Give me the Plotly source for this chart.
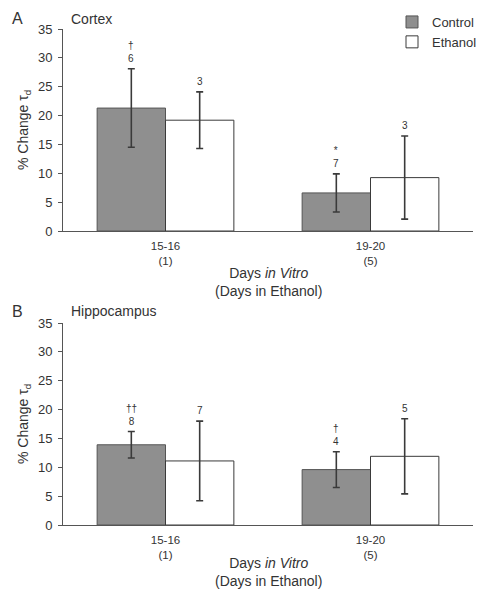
import plotly.graph_objects as go

categories = ["15-16<br>(1)", "19-20<br>(5)"]
groups = ["Control", "Ethanol"]

cortex_control = [21.3, 6.6]
cortex_control_err = [6.8, 3.3]
cortex_ethanol = [19.2, 9.25]
cortex_ethanol_err = [4.9, 7.2]
cortex_control_lbl = ["†<br>6", "*<br>7"]
cortex_ethanol_lbl = ["3", "3"]

hippo_control = [13.9, 9.6]
hippo_control_err = [2.3, 3.1]
hippo_ethanol = [11.1, 11.9]
hippo_ethanol_err = [6.9, 6.5]
hippo_control_lbl = ["††<br>8", "†<br>4"]
hippo_ethanol_lbl = ["7", "5"]

W, H = 491, 599
FONT = "Liberation Sans, Arial, sans-serif"
TXT = "#333333"
CTRL_FILL = "#8f8f8f"
EDGE = "#3a3a3a"
BARGAP = 0.333

fig = go.Figure()

def add_panel(ctrl, ctrl_err, eth, eth_err, xa, ya, showleg):
    fig.add_trace(go.Bar(
        x=categories, y=ctrl, name=groups[0], xaxis=xa, yaxis=ya,
        marker=dict(color=CTRL_FILL, line=dict(color="#555555", width=1)),
        error_y=dict(type="data", array=ctrl_err, color=EDGE, thickness=1.6, width=3.5),
        showlegend=showleg, legendgroup="c"))
    fig.add_trace(go.Bar(
        x=categories, y=eth, name=groups[1], xaxis=xa, yaxis=ya,
        marker=dict(color="white", line=dict(color=EDGE, width=1)),
        error_y=dict(type="data", array=eth_err, color=EDGE, thickness=1.6, width=3.5),
        showlegend=showleg, legendgroup="e"))

add_panel(cortex_control, cortex_control_err, cortex_ethanol, cortex_ethanol_err, "x", "y", True)
add_panel(hippo_control, hippo_control_err, hippo_ethanol, hippo_ethanol_err, "x2", "y2", False)

xdom = [63 / W, 473 / W]
top_dom = [1 - 231 / H, 1 - 29 / H]
bot_dom = [1 - 525 / H, 1 - 323 / H]

axis_common_y = dict(range=[0, 35], dtick=5, showline=True, linecolor="#555555", linewidth=1,
                     ticks="outside", ticklen=4, tickcolor="#555555", showgrid=False, zeroline=False,
                     tickfont=dict(family=FONT, size=13, color=TXT), fixedrange=True, automargin=False,
                     ticklabelstandoff=3)
axis_common_x = dict(showline=True, linecolor="#555555", linewidth=1, ticks="", showgrid=False,
                     range=[-0.5, 1.5], tickfont=dict(family=FONT, size=11.5, color=TXT), fixedrange=True,
                     automargin=False, ticklabelstandoff=4)

fig.update_layout(
    width=W, height=H,
    margin=dict(l=0, r=0, t=0, b=0, autoexpand=False),
    paper_bgcolor="white", plot_bgcolor="white",
    barmode="group", bargap=BARGAP, bargroupgap=0,
    xaxis=dict(domain=xdom, anchor="y", **axis_common_x),
    yaxis=dict(domain=top_dom, anchor="x", **axis_common_y),
    xaxis2=dict(domain=xdom, anchor="y2", **axis_common_x),
    yaxis2=dict(domain=bot_dom, anchor="x2", **axis_common_y),
    legend=dict(x=392 / W, y=1 - 7 / H, xanchor="left", yanchor="top", bgcolor="rgba(0,0,0,0)",
                font=dict(family=FONT, size=13, color=TXT), tracegroupgap=0, itemwidth=30,
                traceorder="normal"),
    font=dict(family=FONT, color=TXT),
)

half = (1 - BARGAP) / 4
annots = []

def label_panel(ctrl, ctrl_err, ctrl_lbl, eth, eth_err, eth_lbl, xa, ya):
    for i in range(len(categories)):
        annots.append(dict(x=i - half, y=ctrl[i] + ctrl_err[i], xref=xa, yref=ya, text=ctrl_lbl[i],
                           showarrow=False, yanchor="bottom", yshift=3,
                           font=dict(family=FONT, size=10, color=TXT)))
        annots.append(dict(x=i + half, y=eth[i] + eth_err[i], xref=xa, yref=ya, text=eth_lbl[i],
                           showarrow=False, yanchor="bottom", yshift=3,
                           font=dict(family=FONT, size=10, color=TXT)))

label_panel(cortex_control, cortex_control_err, cortex_control_lbl,
            cortex_ethanol, cortex_ethanol_err, cortex_ethanol_lbl, "x", "y")
label_panel(hippo_control, hippo_control_err, hippo_control_lbl,
            hippo_ethanol, hippo_ethanol_err, hippo_ethanol_lbl, "x2", "y2")

xcenter = (xdom[0] + xdom[1]) / 2
for letter, name, ytop, ydom, title_y in [("A", "Cortex", 19, top_dom, 282),
                                          ("B", "Hippocampus", 311, bot_dom, 572)]:
    annots.append(dict(x=17 / W, y=1 - ytop / H, xref="paper", yref="paper", text=letter,
                       showarrow=False, xanchor="center", yanchor="middle",
                       font=dict(family=FONT, size=16, color=TXT)))
    annots.append(dict(x=69 / W, y=1 - ytop / H, xref="paper", yref="paper", text=name,
                       showarrow=False, xanchor="left", yanchor="middle",
                       font=dict(family=FONT, size=14, color=TXT)))
    annots.append(dict(x=24 / W, y=(ydom[0] + ydom[1]) / 2, xref="paper", yref="paper",
                       text="% Change τ<sub>d</sub>", textangle=-90,
                       showarrow=False, xanchor="center", yanchor="middle",
                       font=dict(family=FONT, size=14, color=TXT)))
    annots.append(dict(x=xcenter, y=1 - title_y / H, xref="paper", yref="paper",
                       text="Days <i>in Vitro</i><br>(Days in Ethanol)",
                       showarrow=False, xanchor="center", yanchor="middle",
                       font=dict(family=FONT, size=14, color=TXT)))

fig.update_layout(annotations=annots)
fig.write_html("out.html", config={"displayModeBar": False},
               post_script="document.body.style.margin='0';document.body.style.overflow='hidden';")
